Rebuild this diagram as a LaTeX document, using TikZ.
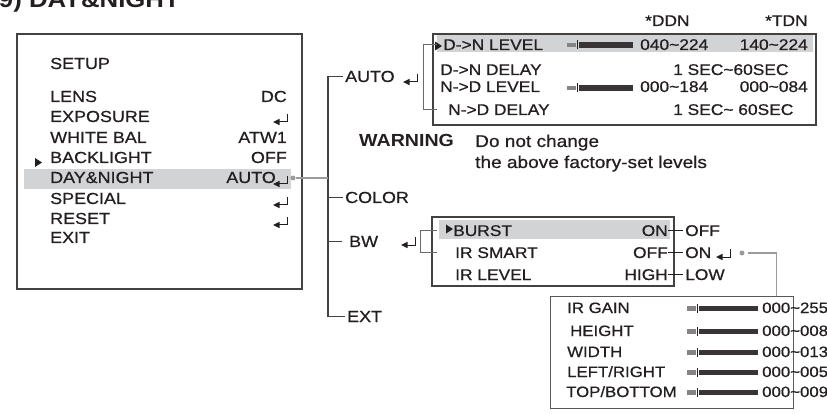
\documentclass[tikz,border=0pt]{standalone}
\usepackage{fontspec}
\setmainfont{Liberation Sans}[FakeStretch=1.12, UprightFeatures={FakeBold=0.7}]
\newcommand\tildech{\textasciitilde}
\definecolor{ink}{HTML}{231F20}
\definecolor{hl}{HTML}{D2D3D5}
\definecolor{conn}{HTML}{9B9B9B}
\definecolor{brkc}{HTML}{6A6A6A}
\tikzset{
 txt/.style={inner sep=0pt, text=ink, font=\fontsize{16}{18}\selectfont},
 ptxt/.style={txt, font=\fontsize{15.5}{18}\selectfont},
 itxt/.style={txt, font=\fontsize{15}{18}\selectfont},
 menubox/.style={draw=ink!85, line width=1.8pt, inner sep=0pt, anchor=north west},
 thinbox/.style={draw=ink!75, line width=1.1pt, inner sep=0pt, anchor=north west},
 band/.style={fill=hl},
 tree/.style={draw=ink!85, line width=1.4pt},
 brk/.style={draw=brkc, line width=1pt},
 gconn/.style={draw=conn, line width=1.4pt},
 cdot/.style={circle, fill=conn, inner sep=0pt, minimum size=5pt},
 seg/.style={draw=ink, line width=1pt},
 pics/enter/.style={code={
   \draw[ink, line width=1pt] (0,-8) -- (0,0) -- (-8,0);
   \fill[ink] (-14,0) -- (-7.5,-3.2) -- (-7.5,3.2) -- cycle;}},
 pics/pointer/.style={code={\fill[ink] (0,-4.5) -- (7,0) -- (0,4.5) -- cycle;}},
 pics/slider/.style={code={
   \fill[ink!55] (0,-2.2) rectangle (9,2.2);
   \draw[ink, line width=1pt] (10,-4.5) -- (10,4.5);
   \fill[ink!90] (12,-2.6) rectangle (#1,2.6);}},
}
\begin{document}
\begin{tikzpicture}[x=1pt,y=-1pt]
\useasboundingbox (0,0) rectangle (827,414);

% title (cut at top, as in the source)
\node[txt, font=\fontsize{23}{24}\selectfont\bfseries, anchor=base east] (title) at (180,8) {9) DAY\&NIGHT};

% ---------- SETUP menu ----------
\fill[band] (24,169) rectangle (291,189);
\node[menubox, minimum width=285pt, minimum height=255pt] (setup) at (16,33) {};
\node[txt, anchor=base west] (sSetup) at (50,69) {SETUP};
\node[txt, anchor=base west] (sLens) at (50,102) {LENS};
\node[txt, anchor=base east] (vLens) at (287,102) {DC};
\node[txt, anchor=base west] (sExp) at (50,122) {EXPOSURE};
\pic at (287,122) {enter};
\node[txt, anchor=base west] (sWb) at (50,143) {WHITE BAL};
\node[txt, anchor=base east] (vWb) at (287,143) {ATW1};
\node[txt, anchor=base west] (sBl) at (50,163) {BACKLIGHT};
\node[txt, anchor=base east] (vBl) at (287,163) {OFF};
\pic at (35,162.5) {pointer};
\node[txt, anchor=base west] (sDn) at (50,183) {DAY\&NIGHT};
\node[txt, anchor=base east] (vDn) at (276,183) {AUTO};
\pic at (287,184) {enter};
\node[txt, anchor=base west] (sSp) at (50,204) {SPECIAL};
\pic at (287,205) {enter};
\node[txt, anchor=base west] (sRs) at (50,224) {RESET};
\pic at (287,225) {enter};
\node[txt, anchor=base west] (sEx) at (50,243) {EXIT};

% ---------- tree ----------
\node[txt, anchor=base west] (auto) at (345,82) {AUTO};
\node[txt, anchor=base west] (color) at (345,203) {COLOR};
\node[txt, anchor=base west] (bw) at (349,247) {BW};
\node[txt, anchor=base west] (ext) at (347,322) {EXT};
\coordinate (trunk) at (328,0);
\draw[tree] ([xshift=-2pt]auto.west) -- (auto.west -| trunk) -- (ext.west -| trunk) -- ([xshift=-2pt]ext.west);
\draw[tree] (color.west -| trunk) -- ([xshift=-2pt]color.west);
\draw[tree] (bw.west -| trunk) -- ([xshift=-7pt]bw.west);
\node[cdot] (dn) at (293,178) {};
\draw[gconn] (dn) -- (dn -| trunk);
\pic at (417,82) {enter};
\pic at (415,245) {enter};

% ---------- AUTO panel ----------
\node[ptxt, anchor=base west] (hDdn) at (645,26) {*DDN};
\node[ptxt, anchor=base west] (hTdn) at (765,26) {*TDN};
\fill[band] (437,35) rectangle (813,52);
\node[menubox, minimum width=383pt, minimum height=91pt] (autobox) at (432,33) {};
\pic at (435,46) {pointer};
\node[ptxt, anchor=base west] (dnl) at (443,50) {D->N LEVEL};
\pic at (567,45) {slider=66};
\node[ptxt, anchor=base west] (dnlv1) at (640,50) {040\tildech 224};
\node[ptxt, anchor=base east] (dnlv2) at (808,50) {140\tildech 224};
\node[ptxt, anchor=base west] (dnd) at (440,75) {D->N DELAY};
\node[ptxt, anchor=base west] (dndv) at (673,75) {1 SEC\tildech 60SEC};
\node[ptxt, anchor=base west] (ndl) at (440,92) {N->D LEVEL};
\pic at (567,88) {slider=66};
\node[ptxt, anchor=base west] (ndlv1) at (640,92) {000\tildech 184};
\node[ptxt, anchor=base east] (ndlv2) at (808,92) {000\tildech 084};
\node[ptxt, anchor=base west] (ndd) at (448,115) {N->D DELAY};
\node[ptxt, anchor=base west] (nddv) at (673,115) {1 SEC\tildech\ 60SEC};
\draw[brk] ([xshift=-6pt]dnl.west) -- ([xshift=-20pt]dnl.west) |- ([xshift=-11pt]ndd.west);

% ---------- warning ----------
\node[txt, font=\fontsize{17.5}{20}\selectfont\bfseries, anchor=base west] (warn) at (359,147) {WARNING};
\node[txt, font=\fontsize{17}{20}\selectfont, anchor=base west] (warn1) at (475,147) {Do not change};
\node[txt, font=\fontsize{17}{20}\selectfont, anchor=base west] (warn2) at (475,168) {the above factory-set levels};

% ---------- BW panel ----------
\fill[band] (439,220) rectangle (670,239);
\node[menubox, minimum width=242pt, minimum height=69pt] (bwbox) at (431,216) {};
\pic at (446,229) {pointer};
\node[ptxt, anchor=base west] (burst) at (453,236) {BURST};
\node[ptxt, anchor=base west] (irs) at (455,258) {IR SMART};
\node[ptxt, anchor=base west] (irl) at (455,280) {IR LEVEL};
\node[ptxt, anchor=base east] (on1) at (668,236) {ON};
\node[ptxt, anchor=base east] (off2) at (668,258) {OFF};
\node[ptxt, anchor=base east] (high3) at (668,280) {HIGH};
\node[ptxt, anchor=base west] (off1) at (685,236) {OFF};
\node[ptxt, anchor=base west] (on2) at (685,258) {ON};
\node[ptxt, anchor=base west] (low3) at (685,280) {LOW};
\draw[seg] (on1.east) -- ([xshift=-2pt]off1.west);
\draw[seg] (off2.east) -- ([xshift=-2pt]on2.west);
\draw[seg] (high3.east) -- ([xshift=-2pt]low3.west);
\pic at (730,257) {enter};
\draw[brk] ([xshift=-16pt]burst.west) -- ([xshift=-33pt]burst.west) |- ([xshift=-18pt]irs.west);

% ---------- IR SMART panel ----------
\node[thinbox, minimum width=243pt, minimum height=112pt] (irbox) at (550,296) {};
\node[cdot] (irdot) at (742,253) {};
\draw[gconn] ([xshift=3pt]irdot.east) -| ([xshift=104.5pt]irbox.north);
\node[itxt, anchor=base west] (gain) at (567,313) {IR GAIN};
\node[itxt, anchor=base west] (hgt) at (570,336) {HEIGHT};
\node[itxt, anchor=base west] (wid) at (567,357) {WIDTH};
\node[itxt, anchor=base west] (lr) at (567,377) {LEFT/RIGHT};
\node[itxt, anchor=base west] (tb) at (566,397) {TOP/BOTTOM};
\pic at (687,308.5) {slider=71};
\pic at (687,331.5) {slider=71};
\pic at (687,352.5) {slider=71};
\pic at (687,372.5) {slider=71};
\pic at (687,392.5) {slider=71};
\node[itxt, anchor=base west] (gainv) at (762,313) {000\tildech 255};
\node[itxt, anchor=base west] (hgtv) at (762,336) {000\tildech 008};
\node[itxt, anchor=base west] (widv) at (762,357) {000\tildech 013};
\node[itxt, anchor=base west] (lrv) at (762,377) {000\tildech 005};
\node[itxt, anchor=base west] (tbv) at (762,397) {000\tildech 009};
\end{tikzpicture}
\end{document}
